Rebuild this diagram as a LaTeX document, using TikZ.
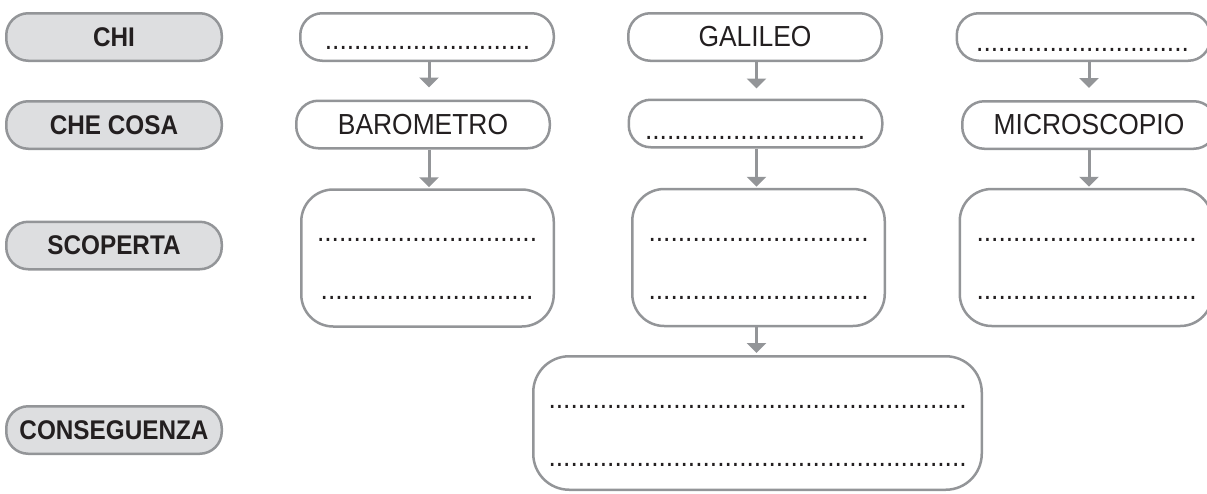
\documentclass[tikz,border=0pt]{standalone}
\usepackage{fontspec}
\usetikzlibrary{arrows.meta}
\newfontfamily\labfont{Liberation Sans}[FakeStretch=0.9]
\newfontfamily\txtfont{Liberation Sans}[FakeStretch=0.91]
\definecolor{bordgray}{RGB}{147,149,152}
\definecolor{labfill}{RGB}{221,222,224}
\definecolor{ink}{RGB}{35,31,32}
\begin{document}
\begin{tikzpicture}[x=1pt,y=-1pt,
  labelbox/.style={draw=bordgray, line width=2.5pt, fill=labfill, rounded corners=22pt,
    minimum width=215.5pt, minimum height=47.5pt, inner sep=0pt,
    font=\labfont\bfseries\fontsize{27}{31}\selectfont, text=ink},
  smallbox/.style={draw=bordgray, line width=2.5pt, rounded corners=22pt,
    minimum width=253.5pt, minimum height=47.5pt, inner sep=0pt,
    font=\txtfont\fontsize{29}{34}\selectfont, text=ink},
  bigbox/.style={draw=bordgray, line width=2.5pt, rounded corners=32pt,
    minimum width=252.5pt, minimum height=137pt, inner sep=0pt},
  widebox/.style={draw=bordgray, line width=2.5pt, rounded corners=36pt,
    minimum width=448.5pt, minimum height=133.5pt, inner sep=0pt},
  dotline/.style={anchor=base, inner sep=0pt, font=\txtfont\fontsize{29}{34}\selectfont, text=ink},
  conn/.style={draw=bordgray, line width=3pt, -{Triangle[width=19pt,length=10pt]}},
]
\path[use as bounding box] (0,0) rectangle (1207,493);
\clip (0,0) rectangle (1207,493);

% left labels
\node[labelbox] (lchi) at (114,37) {CHI};
\node[labelbox] (lcosa) at (114,125) {CHE COSA};
\node[labelbox] (lsco) at (114,245.5) {SCOPERTA};
\node[labelbox] (lcons) at (114,430) {CONSEGUENZA};

% column 1
\node[smallbox] (c1chi) at (427,37) {};
\node[smallbox] (c1cosa) at (423,124.5) {BAROMETRO};
\node[bigbox] (c1sc) at (427.5,258) {};
% column 2
\node[smallbox] (c2chi) at (755,37) {GALILEO};
\node[smallbox] (c2cosa) at (755.5,123.5) {};
\node[bigbox] (c2sc) at (758.5,257.5) {};
% column 3
\node[smallbox] (c3chi) at (1083.5,37) {};
\node[smallbox] (c3cosa) at (1089,125) {MICROSCOPIO};
\node[bigbox] (c3sc) at (1086,257.5) {};
% consequence
\node[widebox] (cons) at (757.5,423) {};

% dotted answer lines
\node[dotline] (d1chi) at (427.5,49.5) {............................};
\node[dotline] (d2cosa) at (755,139.5) {..............................};
\node[dotline] (d3chi) at (1082.5,51) {.............................};
\node[dotline] (d1sa) at (427,241) {..............................};
\node[dotline] (d1sb) at (427,299) {.............................};
\node[dotline] (d2sa) at (758.5,241) {..............................};
\node[dotline] (d2sb) at (758.5,299) {..............................};
\node[dotline] (d3sa) at (1086.5,241) {..............................};
\node[dotline] (d3sb) at (1086.5,299) {..............................};
\node[dotline] (dca) at (757.5,408) {.........................................................};
\node[dotline] (dcb) at (757.5,466) {.........................................................};

% arrow axes
\coordinate (a1) at (429,0);
\coordinate (a2) at (756.5,0);
\coordinate (a3) at (1089,0);

\draw[conn, shorten >=12pt] (c1chi.south -| a1) -- (c1cosa.north -| a1);
\draw[conn, shorten >=1pt] (c1cosa.south -| a1) -- (c1sc.north -| a1);
\draw[conn, shorten >=10pt] (c2chi.south -| a2) -- (c2cosa.north -| a2);
\draw[conn, shorten >=1pt] (c2cosa.south -| a2) -- (c2sc.north -| a2);
\draw[conn, shorten >=2pt] (c2sc.south -| a2) -- (cons.north -| a2);
\draw[conn, shorten >=12pt] (c3chi.south -| a3) -- (c3cosa.north -| a3);
\draw[conn, shorten >=1pt] (c3cosa.south -| a3) -- (c3sc.north -| a3);
\end{tikzpicture}
\end{document}
